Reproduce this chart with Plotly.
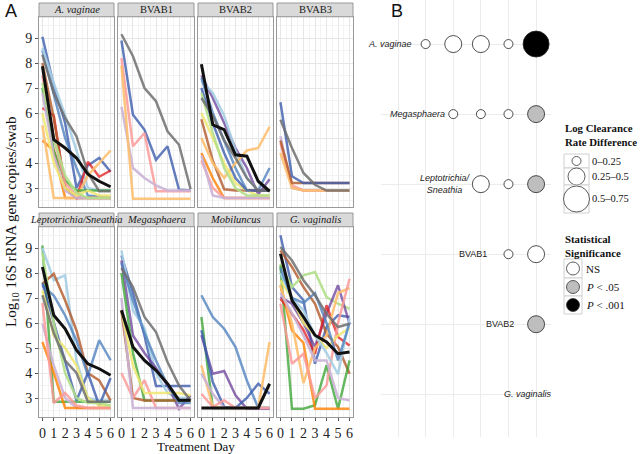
import plotly.graph_objects as go

# ---------------- DATA ----------------
DAYS = [0, 1, 2, 3, 4, 5, 6]

PANEL_TITLES = ["<i>A. vaginae</i>", "BVAB1", "BVAB2", "BVAB3",
                "<i>Leptotrichia/Sneathia</i>", "<i>Megasphaera</i>",
                "<i>Mobiluncus</i>", "<i>G. vaginalis</i>"]

A_VAGINAE = [
    ("S02", [9.05, 7.1, 5.6, 3.0, 3.9, 4.2, 3.65]),
    ("S13", [8.5, 6.8, 5.0, 3.8, 2.7, 2.65, 2.6]),
    ("S01", [8.6, 7.2, 5.9, 4.5, 3.0, 2.9, 2.9]),
    ("S06", [6.2, 5.9, 3.0, 2.6, 4.05, 3.45, 3.7]),
    ("S08", [4.9, 4.5, 2.6, 2.6, 2.6, 2.6, 2.6]),
    ("S07", [5.5, 2.6, 2.6, 2.6, 3.5, 4.0, 4.5]),
    ("S12", [8.0, 5.8, 3.0, 2.6, 2.6, 2.6, 2.6]),
    ("S04", [7.0, 4.5, 3.3, 2.9, 2.9, 2.9, 2.9]),
    ("S05", [7.5, 5.0, 3.2, 2.7, 2.6, 2.6, 2.6]),
    ("S09", [6.8, 4.3, 2.9, 2.6, 2.6, 2.6, 2.6]),
    ("S11", [6.0, 4.0, 3.0, 2.7, 2.9, 2.7, 2.7]),
    ("S03", [7.2, 5.0, 3.5, 2.8, 2.6, 2.6, 2.6]),
    ("S14", [8.33, 6.8, 5.8, 5.07, 3.6, 2.87, 2.87]),
    ("Mean", [7.87, 4.93, 4.6, 4.2, 3.55, 3.27, 3.05]),
]
BVAB1 = [
    ("S02", [8.9, 5.93, 5.33, 4.13, 4.67, 2.93, 2.9]),
    ("S05", [8.2, 4.67, 5.2, 2.87, 2.87, 2.87, 2.87]),
    ("S09", [6.25, 3.8, 3.4, 3.1, 2.9, 2.9, 2.9]),
    ("S07", [7.9, 2.57, 2.57, 2.57, 2.57, 2.57, 2.57]),
    ("S14", [9.15, 8.27, 7.0, 6.47, 5.27, 4.73, 2.96]),
]
BVAB2 = [
    ("S10", [7.5, 6.6, 5.6, 4.6, 3.8, 2.75, 3.35]),
    ("S01", [7.3, 6.8, 5.9, 4.5, 3.4, 2.9, 2.9]),
    ("S13", [7.4, 6.0, 4.9, 3.8, 2.9, 2.9, 3.8]),
    ("S12", [5.75, 4.1, 2.95, 2.9, 2.9, 2.9, 2.9]),
    ("S07", [5.0, 4.0, 3.4, 4.0, 4.5, 4.6, 5.45]),
    ("S08", [4.4, 3.4, 2.6, 2.6, 2.6, 2.6, 2.6]),
    ("S05", [4.1, 3.0, 2.6, 2.6, 2.6, 2.6, 2.6]),
    ("S11", [6.0, 5.0, 4.0, 3.2, 2.9, 2.7, 2.7]),
    ("S09", [4.3, 2.7, 2.6, 2.6, 2.6, 2.6, 2.6]),
    ("S02", [7.0, 5.6, 4.4, 3.4, 2.9, 2.9, 2.9]),
    ("S03", [6.8, 5.2, 3.8, 3.0, 2.7, 2.7, 2.7]),
    ("S14", [6.6, 5.9, 4.9, 4.2, 3.4, 2.9, 2.9]),
    ("Mean", [7.95, 5.53, 5.33, 4.33, 4.27, 3.27, 2.87]),
]
BVAB3 = [
    ("S09", [5.07, 3.0, 2.9, 2.9, 2.9, 2.9, 2.9]),
    ("S05", [4.8, 3.1, 2.9, 2.9, 2.9, 2.9, 2.9]),
    ("S07", [4.4, 3.0, 2.9, 2.9, 2.9, 2.9, 2.9]),
    ("S12", [4.9, 3.2, 3.2, 3.2, 3.2, 3.2, 3.2]),
    ("S02", [6.43, 3.47, 3.2, 3.2, 3.2, 3.2, 3.2]),
    ("S14", [5.73, 4.6, 3.6, 3.13, 2.9, 2.9, 2.9]),
]
LEPTO = [
    ("S04", [9.1, 2.85, 2.85, 2.85, 2.85, 2.85, 2.85]),
    ("S01", [9.0, 7.71, 7.91, 4.5, 3.0, 2.9, 2.9]),
    ("S12", [7.57, 7.97, 6.9, 5.7, 4.0, 3.7, 2.9]),
    ("S13", [7.5, 7.1, 6.3, 5.3, 3.9, 5.31, 4.51]),
    ("S02", [7.6, 6.0, 4.5, 2.9, 4.0, 2.7, 3.8]),
    ("S11", [7.3, 5.5, 5.0, 4.3, 3.0, 2.7, 2.7]),
    ("S09", [5.97, 4.3, 3.0, 2.6, 2.6, 2.6, 2.6]),
    ("S08", [5.24, 4.0, 2.6, 2.6, 2.6, 2.6, 2.6]),
    ("S05", [6.8, 2.8, 3.2, 2.7, 2.6, 2.6, 2.6]),
    ("S03", [8.8, 6.0, 4.0, 3.0, 2.8, 2.8, 2.7]),
    ("S14", [7.11, 5.6, 4.5, 4.0, 2.85, 2.85, 2.85]),
    ("Mean", [8.24, 6.31, 5.77, 4.91, 4.37, 4.17, 3.91]),
]
MEGASPHAERA = [
    ("S02", [8.7, 7.2, 5.5, 3.48, 3.48, 3.48, 3.48]),
    ("S01", [8.9, 6.5, 5.8, 4.0, 3.2, 3.0, 3.0]),
    ("S10", [8.5, 5.5, 4.8, 4.2, 3.5, 2.57, 3.1]),
    ("S04", [8.0, 4.8, 2.9, 2.9, 2.9, 2.9, 2.9]),
    ("S12", [6.5, 3.0, 2.9, 2.9, 2.9, 2.9, 2.9]),
    ("S05", [4.0, 3.0, 3.71, 2.6, 2.6, 2.6, 2.6]),
    ("S09", [7.0, 2.6, 2.6, 2.6, 2.6, 2.6, 2.6]),
    ("S11", [6.5, 4.3, 3.2, 3.2, 3.2, 3.2, 3.1]),
    ("S13", [8.4, 6.9, 5.6, 4.5, 3.5, 2.8, 2.8]),
    ("S14", [8.2, 7.44, 6.24, 5.64, 4.44, 3.5, 2.9]),
    ("Mean", [6.51, 5.04, 4.5, 4.11, 3.57, 2.91, 2.91]),
]
MOBILUNCUS = [
    ("S13", [7.11, 6.24, 5.77, 5.04, 3.7, 2.6, 2.6]),
    ("S04", [6.24, 2.6, 2.6, 2.6, 2.6, 2.6, 2.6]),
    ("S10", [5.51, 3.97, 4.08, 3.11, 2.57, 2.57, 2.57]),
    ("S02", [5.71, 3.64, 2.64, 2.6, 3.0, 3.57, 3.17]),
    ("S07", [4.31, 2.64, 2.6, 2.6, 2.6, 2.6, 5.24]),
    ("S09", [3.97, 3.17, 2.6, 2.6, 2.6, 2.6, 2.6]),
    ("S05", [3.17, 2.64, 2.91, 2.6, 2.6, 2.6, 2.6]),
    ("Mean", [2.6, 2.6, 2.6, 2.6, 2.6, 2.6, 3.57]),
]
G_VAGINALIS = [
    ("S02", [9.51, 7.44, 6.91, 4.37, 5.84, 6.31, 6.24]),
    ("S12", [8.9, 8.24, 7.44, 6.77, 5.57, 5.04, 3.97]),
    ("S03", [8.37, 7.44, 7.91, 8.04, 7.04, 6.77, 6.57]),
    ("S04", [8.3, 2.57, 2.57, 2.71, 4.31, 2.57, 4.5]),
    ("S10", [7.04, 6.77, 6.0, 5.04, 6.37, 7.51, 5.97]),
    ("S08", [7.5, 5.7, 5.2, 2.57, 2.57, 2.57, 2.57]),
    ("S06", [6.97, 6.37, 5.71, 4.77, 6.71, 5.44, 5.1]),
    ("S07", [7.5, 6.0, 3.6, 5.0, 5.5, 7.2, 7.4]),
    ("S05", [6.77, 4.37, 4.77, 3.0, 3.5, 6.0, 7.77]),
    ("S09", [7.2, 6.4, 5.5, 4.5, 4.5, 3.0, 2.9]),
    ("S11", [7.7, 7.0, 6.0, 5.5, 5.0, 5.5, 5.8]),
    ("S01", [8.0, 7.0, 6.5, 5.5, 4.8, 3.95, 6.2]),
    ("S13", [8.2, 7.0, 6.8, 7.2, 6.0, 4.5, 6.0]),
    ("S14", [9.04, 8.5, 7.71, 7.11, 6.37, 5.84, 5.97]),
    ("Mean", [8.77, 6.91, 6.24, 5.51, 5.24, 4.77, 4.84]),
]
PANELS = [A_VAGINAE, BVAB1, BVAB2, BVAB3, LEPTO, MEGASPHAERA, MOBILUNCUS, G_VAGINALIS]

Y_TICKS = [3, 4, 5, 6, 7, 8, 9]

# Panel B (pairwise comparison matrix)
B_LABELS = ["<i>A. vaginae</i>", "<i>Megasphaera</i>", "<i>Leptotrichia/</i><br><i>Sneathia</i>",
            "BVAB1", "BVAB2", "<i>G. vaginalis</i>"]
B_ROW = [1, 1, 1, 1, 1, 2, 2, 2, 2, 3, 3, 3, 4, 4, 5]
B_COL = [2, 3, 4, 5, 6, 3, 4, 5, 6, 4, 5, 6, 5, 6, 6]
B_SIZE = ["0–0.25", "0.25–0.5", "0.25–0.5", "0–0.25", "0.5–0.75",
          "0–0.25", "0–0.25", "0–0.25", "0.25–0.5",
          "0.25–0.5", "0–0.25", "0.25–0.5",
          "0–0.25", "0.25–0.5",
          "0.25–0.5"]
B_SIG = ["NS", "NS", "NS", "NS", "P < .001",
         "NS", "NS", "NS", "P < .05",
         "NS", "NS", "P < .05",
         "NS", "NS",
         "P < .05"]
SIZE_LEVELS = ["0–0.25", "0.25–0.5", "0.5–0.75"]
SIG_LEVELS = ["NS", "P < .05", "P < .001"]

# ---------------- STYLE ----------------
SUBJECT_COLORS = {
    "S01": "rgba(166,206,227,0.9)",
    "S02": "rgba(60,92,172,0.8)",
    "S03": "rgba(178,223,138,0.9)",
    "S04": "rgba(51,160,44,0.75)",
    "S05": "rgba(251,154,153,0.85)",
    "S06": "rgba(227,26,28,0.75)",
    "S07": "rgba(253,191,111,0.9)",
    "S08": "rgba(255,127,0,0.8)",
    "S09": "rgba(202,178,214,0.9)",
    "S10": "rgba(106,61,154,0.75)",
    "S11": "rgba(240,230,110,0.85)",
    "S12": "rgba(177,89,40,0.8)",
    "S13": "rgba(80,130,190,0.8)",
    "S14": "rgba(110,110,110,0.85)",
    "Mean": "#111111",
}
SIZE_PX = {"0–0.25": 9, "0.25–0.5": 17, "0.5–0.75": 26}
SIG_FILL = {"NS": "#ffffff", "P < .05": "#bebebe", "P < .001": "#000000"}
SIG_TEXT = {"NS": "NS", "P < .05": "<i>P</i> < .05", "P < .001": "<i>P</i> < .001"}

W, H = 640, 454
SERIF = "Liberation Serif"
SANS = "Liberation Sans"


def px(x):
    return x / W


def py(y):
    return 1 - y / H


COLS_PX = [(39, 114), (118, 194), (198, 273), (277, 353)]
ROWS_PX = [(16.75, 206.75), (226.75, 416.75)]
STRIPS_PX = [(3, 16.75), (213, 226.75)]

fig = go.Figure()
layout = dict(
    width=W, height=H, margin=dict(l=0, r=0, t=0, b=0),
    paper_bgcolor="white", plot_bgcolor="white", showlegend=False,
    hovermode=False,
)
shapes = []
annotations = []

for i, panel in enumerate(PANELS):
    k = i + 1
    r, c = divmod(i, 4)
    xname = "xaxis" if k == 1 else f"xaxis{k}"
    yname = "yaxis" if k == 1 else f"yaxis{k}"
    xref = "x" if k == 1 else f"x{k}"
    yref = "y" if k == 1 else f"y{k}"
    x0, x1 = COLS_PX[c]
    y0, y1 = ROWS_PX[r]
    layout[xname] = dict(
        domain=[px(x0), px(x1)], range=[-0.3, 6.3], anchor=yref,
        tickvals=DAYS, showticklabels=(r == 1),
        ticks="outside" if r == 1 else "", ticklen=3, tickcolor="#555",
        tickfont=dict(family=SERIF, size=14, color="#222"),
        showgrid=True, gridcolor="#e6e6e6", gridwidth=1,
        minor=dict(dtick=0.5, tick0=0, showgrid=True, gridcolor="#f3f3f3", gridwidth=0.7),
        zeroline=False, showline=True, mirror=True, linecolor="#999", linewidth=1,
        fixedrange=True,
    )
    layout[yname] = dict(
        domain=[py(y1), py(y0)], range=[2.25, 9.85], anchor=xref,
        tickvals=Y_TICKS, showticklabels=(c == 0),
        ticks="outside" if c == 0 else "", ticklen=3, tickcolor="#555",
        tickfont=dict(family=SERIF, size=14, color="#222"),
        showgrid=True, gridcolor="#e6e6e6", gridwidth=1,
        minor=dict(dtick=0.5, tick0=0, showgrid=True, gridcolor="#f3f3f3", gridwidth=0.7),
        zeroline=False, showline=True, mirror=True, linecolor="#999", linewidth=1,
        fixedrange=True,
    )
    # draw colored subjects, then gray, then mean on top
    ordered = [p for p in panel if p[0] not in ("S14", "Mean")] + \
              [p for p in panel if p[0] == "S14"] + [p for p in panel if p[0] == "Mean"]
    for sid, vals in ordered:
        fig.add_trace(go.Scatter(
            x=DAYS, y=vals, mode="lines", xaxis=xref, yaxis=yref,
            line=dict(color=SUBJECT_COLORS[sid], width=3 if sid == "Mean" else 2.5),
            hoverinfo="skip",
        ))
    s0, s1 = STRIPS_PX[r]
    shapes.append(dict(type="rect", xref="paper", yref="paper",
                       x0=px(x0), x1=px(x1), y0=py(s1), y1=py(s0),
                       fillcolor="#d9d9d9", line=dict(color="#999", width=1)))
    annotations.append(dict(text=PANEL_TITLES[i], xref="paper", yref="paper",
                            x=px((x0 + x1) / 2), y=py((s0 + s1) / 2),
                            showarrow=False, xanchor="center", yanchor="middle",
                            font=dict(family=SERIF, size=10.5, color="#1a1a1a")))

# axis titles panel A
annotations.append(dict(text="Log<sub>10</sub> 16S rRNA gene copies/swab", xref="paper", yref="paper",
                        x=px(12), y=py(222), textangle=-90, showarrow=False,
                        xanchor="center", yanchor="middle",
                        font=dict(family=SERIF, size=15, color="#111")))
annotations.append(dict(text="Treatment Day", xref="paper", yref="paper",
                        x=px(196), y=py(446), showarrow=False,
                        xanchor="center", yanchor="middle",
                        font=dict(family=SERIF, size=13, color="#111")))
annotations.append(dict(text="A", xref="paper", yref="paper", x=px(3), y=py(11),
                        showarrow=False, xanchor="left", yanchor="middle",
                        font=dict(family=SANS, size=18, color="#111")))
annotations.append(dict(text="B", xref="paper", yref="paper", x=px(389), y=py(11),
                        showarrow=False, xanchor="left", yanchor="middle",
                        font=dict(family=SANS, size=18, color="#111")))

# ---------------- PANEL B ----------------
layout["xaxis9"] = dict(domain=[px(381), px(551)], range=[0.384, 6.54], anchor="y9",
                        tickvals=[1, 2, 3, 4, 5, 6], showticklabels=False, ticks="",
                        showgrid=True, gridcolor="#ececec", gridwidth=1,
                        zeroline=False, showline=False, fixedrange=True)
layout["yaxis9"] = dict(domain=[py(437), py(0)], range=[6.61, 0.371], anchor="x9",
                        tickvals=[1, 2, 3, 4, 5, 6], showticklabels=False, ticks="",
                        showgrid=True, gridcolor="#ececec", gridwidth=1,
                        zeroline=False, showline=False, fixedrange=True)

fig.add_trace(go.Scatter(
    x=B_COL, y=B_ROW, mode="markers", xaxis="x9", yaxis="y9",
    marker=dict(size=[SIZE_PX[s] for s in B_SIZE],
                color=[SIG_FILL[s] for s in B_SIG], opacity=1,
                line=dict(color="#222", width=0.8)),
    hoverinfo="skip",
))

for idx, lab in enumerate(B_LABELS):
    annotations.append(dict(text=lab, xref="x9", yref="y9", x=idx + 1, y=idx + 1,
                            xshift=-8, showarrow=False, xanchor="center", yanchor="middle",
                            font=dict(family=SANS, size=9, color="#222")))

# legends (drawn manually)
annotations.append(dict(text="<b>Log Clearance<br>Rate Difference</b>", xref="paper", yref="paper",
                        x=px(563), y=py(120), showarrow=False, xanchor="left", yanchor="top",
                        align="left", font=dict(family=SERIF, size=10.8, color="#111")))
size_boxes = [(154, 168), (168, 185), (185, 213)]
for lev, (b0, b1) in zip(SIZE_LEVELS, size_boxes):
    shapes.append(dict(type="rect", xref="paper", yref="paper", x0=px(564), x1=px(589),
                       y0=py(b1), y1=py(b0), fillcolor="white", line=dict(color="#d0d0d0", width=1)))
    d = SIZE_PX[lev]
    cy = (b0 + b1) / 2
    shapes.append(dict(type="circle", xref="paper", yref="paper",
                       xsizemode="pixel", ysizemode="pixel",
                       xanchor=px(576.5), yanchor=py(cy),
                       x0=-d / 2, x1=d / 2, y0=-d / 2, y1=d / 2,
                       fillcolor="white", line=dict(color="#333", width=0.8)))
    annotations.append(dict(text=lev, xref="paper", yref="paper", x=px(590), y=py(cy),
                            showarrow=False, xanchor="left", yanchor="middle",
                            font=dict(family=SERIF, size=10.5, color="#111")))

annotations.append(dict(text="<b>Statistical<br>Significance</b>", xref="paper", yref="paper",
                        x=px(563), y=py(231), showarrow=False, xanchor="left", yanchor="top",
                        align="left", font=dict(family=SERIF, size=10.8, color="#111")))
sig_boxes = [(259, 278), (278, 296), (296, 314)]
for lev, (b0, b1) in zip(SIG_LEVELS, sig_boxes):
    shapes.append(dict(type="rect", xref="paper", yref="paper", x0=px(564), x1=px(582),
                       y0=py(b1), y1=py(b0), fillcolor="white", line=dict(color="#d0d0d0", width=1)))
    cy = (b0 + b1) / 2
    shapes.append(dict(type="circle", xref="paper", yref="paper",
                       xsizemode="pixel", ysizemode="pixel",
                       xanchor=px(573), yanchor=py(cy),
                       x0=-6.5, x1=6.5, y0=-6.5, y1=6.5,
                       fillcolor=SIG_FILL[lev], line=dict(color="#333", width=0.8)))
    annotations.append(dict(text=SIG_TEXT[lev], xref="paper", yref="paper", x=px(584), y=py(cy),
                            showarrow=False, xanchor="left", yanchor="middle",
                            font=dict(family=SERIF, size=11, color="#111")))

layout["shapes"] = shapes
layout["annotations"] = annotations
fig.update_layout(**layout)
fig.write_html("out.html", config={"displayModeBar": False},
               post_script="document.body.style.margin='0';document.body.style.overflow='hidden';")
